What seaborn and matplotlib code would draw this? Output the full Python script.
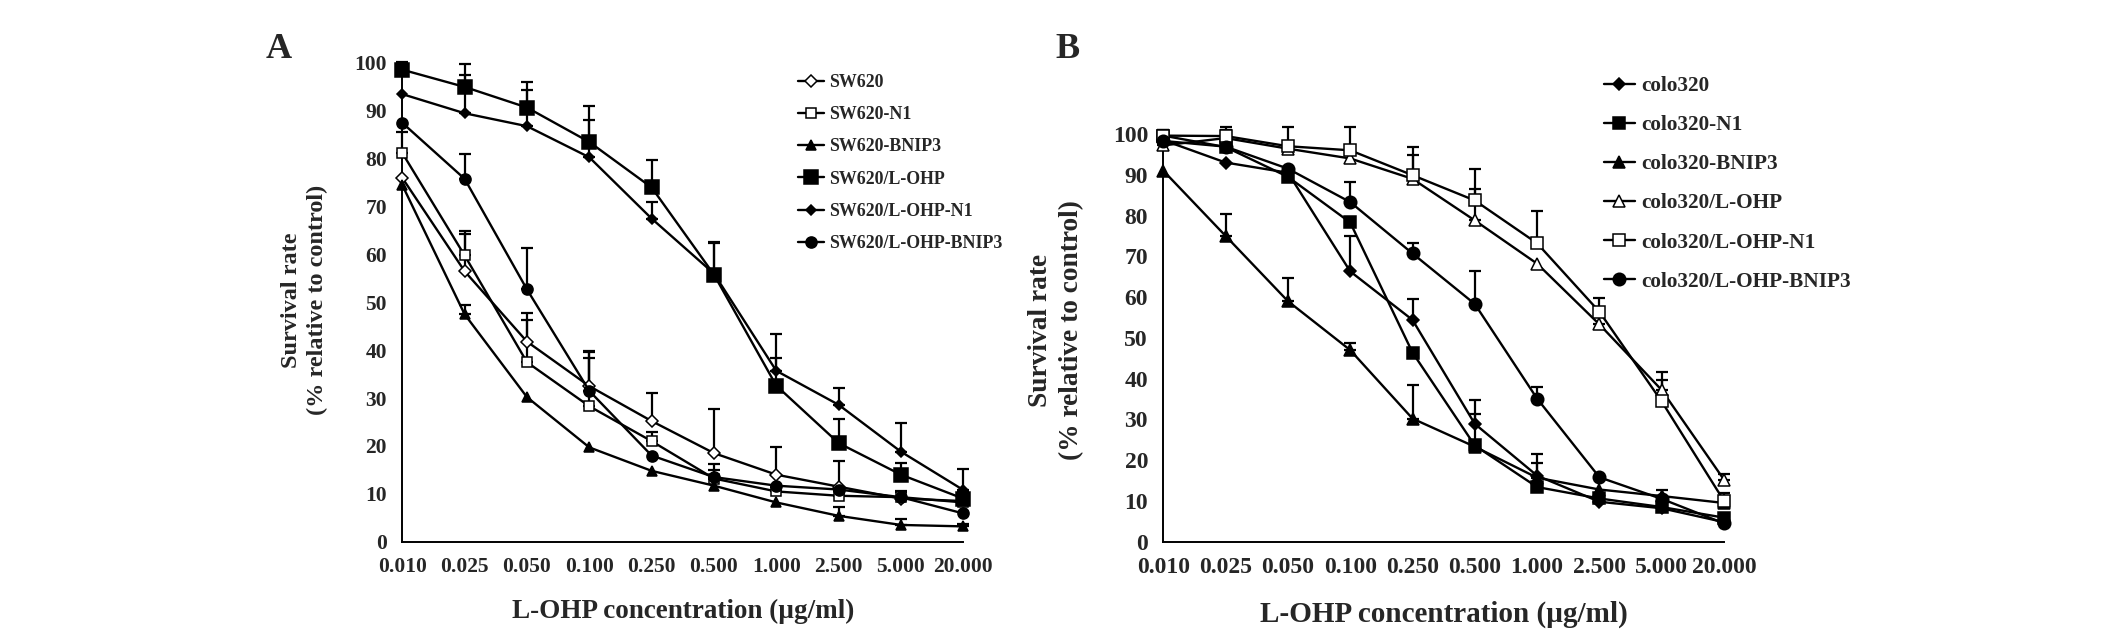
import numpy as np
import pandas as pd
import seaborn as sns
import matplotlib.pyplot as plt
from matplotlib.lines import Line2D

# concentrations (categorical axis)
conc_labels = ['0.010', '0.025', '0.050', '0.100', '0.250',
               '0.500', '1.000', '2.500', '5.000', '20.000']

# panel A: SW620 lines
a_names = ['SW620', 'SW620-N1', 'SW620-BNIP3',
           'SW620/L-OHP', 'SW620/L-OHP-N1', 'SW620/L-OHP-BNIP3']
a_sw620 = [76.0, 56.5, 41.8, 32.5, 25.2, 18.5, 14.0, 11.5, 9.0, 8.5]
a_sw620_n1 = [81.2, 59.8, 37.5, 28.3, 21.0, 13.2, 10.5, 9.6, 9.3, 8.2]
a_sw620_bnip3 = [74.5, 47.5, 30.2, 19.7, 14.8, 11.7, 8.2, 5.4, 3.5, 3.2]
a_loh = [98.6, 95.0, 90.7, 83.5, 74.0, 55.8, 32.6, 20.6, 14.0, 9.0]
a_loh_n1 = [93.5, 89.5, 86.8, 80.3, 67.5, 56.0, 35.7, 28.6, 18.8, 10.8]
a_loh_bnip3 = [87.5, 75.8, 52.7, 31.5, 18.0, 13.5, 11.7, 10.9, 9.3, 5.9]
a_sw620_err = [0, 8.5, 6.0, 7.3, 5.8, 9.3, 5.7, 5.3, 1.5, 1.5]
a_sw620_n1_err = [4.3, 4.5, 8.8, 10.0, 2.0, 3.0, 1.0, 1.0, 1.0, 1.0]
a_sw620_bnip3_err = [0, 1.9, 0, 0, 0, 0, 0, 1.8, 1.2, 0.5]
a_loh_err = [1.6, 4.8, 5.3, 7.5, 5.7, 6.8, 10.8, 5.0, 2.5, 1.5]
a_loh_n1_err = [0, 8.0, 7.5, 7.8, 3.5, 6.3, 2.7, 3.5, 5.9, 4.3]
a_loh_bnip3_err = [0, 5.2, 8.7, 8.2, 0, 1.5, 0, 0, 0, 0]

# panel B: colo320 lines
b_names = ['colo320', 'colo320-N1', 'colo320-BNIP3',
           'colo320/L-OHP', 'colo320/L-OHP-N1', 'colo320/L-OHP-BNIP3']
b_colo = [98.5, 93.0, 90.5, 66.3, 54.4, 28.9, 16.2, 9.8, 8.2, 4.8]
b_colo_n1 = [99.6, 96.8, 89.5, 78.3, 46.4, 23.6, 13.4, 10.6, 8.5, 5.9]
b_colo_bnip3 = [91.0, 75.0, 59.0, 47.0, 30.2, 23.3, 15.7, 12.8, 11.2, 9.5]
b_loh = [97.2, 99.0, 96.4, 94.0, 89.0, 78.8, 68.2, 53.3, 37.2, 15.2]
b_loh_n1 = [99.6, 99.5, 97.0, 96.0, 89.9, 83.7, 73.2, 56.4, 34.4, 10.0]
b_loh_bnip3 = [98.3, 96.9, 91.5, 83.3, 70.7, 58.3, 35.1, 15.8, 10.5, 4.5]
b_colo_err = [0, 0, 0, 8.8, 5.2, 5.8, 3.0, 0, 0, 0]
b_colo_n1_err = [1.5, 2.0, 2.5, 0, 0, 7.7, 0, 0, 1.0, 0]
b_colo_bnip3_err = [0, 5.5, 5.8, 1.8, 8.3, 0, 5.7, 0, 1.5, 0]
b_loh_err = [2.0, 2.0, 0, 0, 5.8, 7.6, 0, 4.0, 2.4, 1.5]
b_loh_n1_err = [1.5, 2.3, 4.8, 5.8, 6.9, 7.8, 7.8, 3.4, 7.2, 2.0]
b_loh_bnip3_err = [0, 0, 0, 5.0, 2.6, 8.1, 2.8, 0, 0, 0]

a_vals = [a_sw620, a_sw620_n1, a_sw620_bnip3, a_loh, a_loh_n1, a_loh_bnip3]
a_errs = [a_sw620_err, a_sw620_n1_err, a_sw620_bnip3_err, a_loh_err, a_loh_n1_err, a_loh_bnip3_err]
b_vals = [b_colo, b_colo_n1, b_colo_bnip3, b_loh, b_loh_n1, b_loh_bnip3]
b_errs = [b_colo_err, b_colo_n1_err, b_colo_bnip3_err, b_loh_err, b_loh_n1_err, b_loh_bnip3_err]

# marker, size, filled
a_styles = [('D', 6.5, False), ('s', 7.5, False), ('^', 7.5, True),
            ('s', 10, True), ('D', 5.5, True), ('o', 8, True)]
b_styles = [('D', 6.5, True), ('s', 8.5, True), ('^', 8, True),
            ('^', 8.5, False), ('s', 8.5, False), ('o', 9, True)]

sns.set_style('white')
plt.rcParams['font.family'] = ['Liberation Serif', 'DejaVu Serif']
plt.rcParams['font.weight'] = 'bold'

fig = plt.figure(figsize=(21.26, 6.3), dpi=100)
W, H = 2126, 630
axA = fig.add_axes([402.3 / W, (H - 541.7) / H, 561 / W, (541.7 - 63) / H])
axB = fig.add_axes([1163.3 / W, (H - 541.7) / H, 560.7 / W, (541.7 - 134) / H])


def draw_panel(ax, names, vals, errs, styles, tick_fs, label_fs):
    x = np.arange(len(conc_labels))
    for name, v, e, (mk, ms, filled) in zip(names, vals, errs, styles):
        e = np.array(e)
        m = e > 0
        ax.errorbar(x[m], np.array(v)[m], yerr=[np.zeros(m.sum()), e[m]],
                    fmt='none', ecolor='black', elinewidth=1.6,
                    capsize=4.5, capthick=1.6, clip_on=False, zorder=2)
        df = pd.DataFrame({'x': x, 'y': v})
        sns.lineplot(data=df, x='x', y='y', ax=ax, color='black', lw=1.7,
                     marker=mk, markersize=ms,
                     markerfacecolor='black' if filled else 'white',
                     markeredgecolor='black', markeredgewidth=1.1,
                     clip_on=False, zorder=3)
    ax.set_xlim(0, len(conc_labels) - 1)
    ax.set_ylim(0, 100)
    ax.set_xticks(x)
    ax.set_xticklabels(conc_labels, fontsize=tick_fs, fontweight='bold')
    ax.set_yticks(np.arange(0, 101, 10))
    ax.set_yticklabels([str(t) for t in range(0, 101, 10)],
                       fontsize=tick_fs, fontweight='bold')
    ax.tick_params(direction='in', length=5.5, width=1.3, pad=11)
    for s in ['top', 'right']:
        ax.spines[s].set_visible(False)
    for s in ['left', 'bottom']:
        ax.spines[s].set_linewidth(1.4)
        ax.spines[s].set_color('black')
    ax.set_xlabel('L-OHP concentration (µg/ml)', fontsize=label_fs,
                  fontweight='bold', labelpad=16)
    ax.set_ylabel('')


draw_panel(axA, a_names, a_vals, a_errs, a_styles, 15.5, 19.5)
draw_panel(axB, b_names, b_vals, b_errs, b_styles, 17, 21)

# y labels
fig.text(304.5 / W, 1 - 300 / H, 'Survival rate\n(% relative to control)',
         rotation=90, ha='center', va='center', fontsize=17.5,
         fontweight='bold', linespacing=1.3)
fig.text(1056 / W, 1 - 330 / H, 'Survival rate\n(% relative to control)',
         rotation=90, ha='center', va='center', fontsize=19.7,
         fontweight='bold', linespacing=1.3)

# panel letters
fig.text(279 / W, 1 - 50 / H, 'A', ha='center', va='center', fontsize=26, fontweight='bold')
fig.text(1068 / W, 1 - 50 / H, 'B', ha='center', va='center', fontsize=26, fontweight='bold')


def handles(styles):
    return [Line2D([0], [0], color='black', lw=1.7, marker=mk, markersize=ms,
                   markerfacecolor='black' if f else 'white',
                   markeredgecolor='black', markeredgewidth=1.1)
            for mk, ms, f in styles]


fig.legend(handles(a_styles), a_names, loc='upper left',
           bbox_to_anchor=(797.7 / W, 1 - 74 / H), frameon=False,
           prop={'size': 12.9, 'weight': 'bold'}, handlelength=1.45,
           handletextpad=0.3, labelspacing=0.85, borderpad=0, borderaxespad=0)
fig.legend(handles(b_styles), b_names, loc='upper left',
           bbox_to_anchor=(1604 / W, 1 - 76 / H), frameon=False,
           prop={'size': 15.3, 'weight': 'bold'}, handlelength=1.45,
           handletextpad=0.3, labelspacing=0.9, borderpad=0, borderaxespad=0)

fig.savefig('out.png', dpi=100, facecolor='white')
